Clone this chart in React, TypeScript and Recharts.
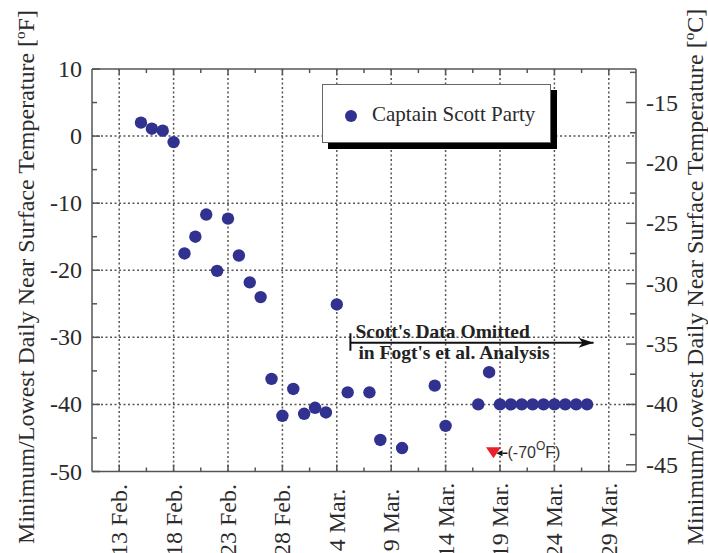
import React from "react";
import { CartesianGrid, Legend, Scatter, ScatterChart, XAxis, YAxis } from "recharts";

// days counted from 13 Feb. 1912 (leap year)
const scottDays = [2, 3, 4, 5, 6, 7, 8, 9, 10, 11, 12, 13, 14, 15, 16, 17, 18, 19, 20, 21, 23, 24, 26, 29, 30, 33, 34, 35, 36, 37, 38, 39, 40, 41, 42, 43];
const scottTempsF = [2, 1.1, 0.8, -0.9, -17.5, -15, -11.7, -20.1, -12.3, -17.8, -21.8, -24, -36.2, -41.7, -37.7, -41.4, -40.5, -41.2, -25.1, -38.2, -38.2, -45.3, -46.5, -37.2, -43.2, -40, -35.2, -40, -40, -40, -40, -40, -40, -40, -40, -40];

// single -70 F reading, drawn near the bottom of the axis
const fogtDay = 34.4;
const fogtMarkF = -47.2;

const omittedFromDay = 21.25;
const omittedToDay = 43.6;
const omittedLevelF = -30.8;

const dateTickDays = [0, 5, 10, 15, 20, 25, 30, 35, 40, 45];
const dateTickLabels = ["13 Feb.", "18 Feb.", "23 Feb.", "28 Feb.", "4 Mar.", "9 Mar.", "14 Mar.", "19 Mar.", "24 Mar.", "29 Mar."];
const dateMinorTicks = [2.5, 7.5, 12.5, 17.5, 22.5, 27.5, 32.5, 37.5, 42.5];
const fTicks = [10, 0, -10, -20, -30, -40, -50];
const fMinorTicks = [5, -5, -15, -25, -35, -45];
const fGrid = [0, -10, -20, -30, -40];
const cTicks = [-15, -20, -25, -30, -35, -40, -45];
const cMinorTicks = [-12.5, -17.5, -22.5, -27.5, -32.5, -37.5, -42.5];

const F_DOMAIN: [number, number] = [-50, 10];
const C_DOMAIN: [number, number] = [(F_DOMAIN[0] - 32) / 1.8, (F_DOMAIN[1] - 32) / 1.8];
const DAY_DOMAIN: [number, number] = [-2.5, 47.5];

const W = 708;
const H = 553;
const PLOT_LEFT = 92;
const PLOT_RIGHT = 636;
const PLOT_TOP = 69;
const PLOT_BOTTOM = 471.5;

const SERIF = '"Liberation Serif", "Times New Roman", serif';
const SANS = '"Liberation Sans", Arial, sans-serif';
const FRAME = "#555";
const INK = "#2b2b2b";
const DOT = "#31318f";
const RED = "#e8202a";
const TICK_FONT = 24;

const scottData = scottDays.map((day, i) => ({ day, temp: scottTempsF[i] }));
const fogtData = [{ day: fogtDay, temp: fogtMarkF }];
const omittedData = [
  { day: omittedFromDay, temp: omittedLevelF, kind: "start" },
  { day: omittedToDay, temp: omittedLevelF, kind: "end" },
];

function BottomTick(props: any) {
  const { x, payload } = props;
  const i = dateTickDays.indexOf(payload.value);
  const major = i >= 0;
  return (
    <g>
      <line x1={x} x2={x} y1={PLOT_BOTTOM} y2={PLOT_BOTTOM - (major ? 7 : 4)} stroke={FRAME} strokeWidth={1.5} />
      {major && (
        <text
          transform={`translate(${x},520) rotate(-90)`}
          textAnchor="middle"
          dominantBaseline="central"
          fontSize={TICK_FONT}
          fontFamily={SERIF}
          fill={INK}
        >
          {dateTickLabels[i]}
        </text>
      )}
    </g>
  );
}

function TopTick(props: any) {
  const { x, payload } = props;
  const major = dateTickDays.includes(payload.value);
  return <line x1={x} x2={x} y1={PLOT_TOP} y2={PLOT_TOP + (major ? 6 : 4)} stroke={FRAME} strokeWidth={1.5} />;
}

function LeftTick(props: any) {
  const { y, payload } = props;
  const major = fTicks.includes(payload.value);
  return (
    <g>
      <line x1={PLOT_LEFT} x2={PLOT_LEFT + (major ? 8 : 5)} y1={y} y2={y} stroke={FRAME} strokeWidth={1.5} />
      {major && (
        <text x={82} y={y} textAnchor="end" dominantBaseline="central" fontSize={TICK_FONT} fontFamily={SERIF} fill={INK}>
          {payload.value}
        </text>
      )}
    </g>
  );
}

function RightTick(props: any) {
  const { y, payload } = props;
  const major = cTicks.includes(payload.value);
  return (
    <g>
      <line x1={PLOT_RIGHT} x2={PLOT_RIGHT - (major ? 10 : 6)} y1={y} y2={y} stroke={FRAME} strokeWidth={1.5} />
      {major && (
        <text x={646} y={y} textAnchor="start" dominantBaseline="central" fontSize={TICK_FONT} fontFamily={SERIF} fill={INK}>
          {payload.value}
        </text>
      )}
    </g>
  );
}

function AxisTitle({ baseX, unit }: { baseX: number; unit: string }) {
  return (
    <text transform={`translate(${baseX},277) rotate(-90)`} textAnchor="middle" fontSize={24} fontFamily={SERIF} fill={INK}>
      Minimum/Lowest Daily Near Surface Temperature [
      <tspan fontSize={15} dy={-9}>o</tspan>
      <tspan dy={9}>{unit}]</tspan>
    </text>
  );
}

function LegendBox({ payload }: any) {
  const items = (payload || []).filter((p: any) => p.type !== "none");
  return (
    <div
      style={{
        boxSizing: "border-box",
        position: "relative",
        width: 229,
        height: 59,
        border: "1.5px solid #666",
        background: "#fff",
        boxShadow: "6px 6px 0 #000",
        fontFamily: SERIF,
      }}
    >
      {items.map((p: any) => (
        <React.Fragment key={p.value}>
          <div
            style={{
              position: "absolute",
              left: 22,
              top: 24.5,
              width: 12,
              height: 12,
              borderRadius: "50%",
              background: p.color,
            }}
          />
          <span
            style={{
              position: "absolute",
              left: 49,
              top: 18.5,
              fontSize: 21,
              lineHeight: "21px",
              color: INK,
              whiteSpace: "nowrap",
            }}
          >
            {p.value}
          </span>
        </React.Fragment>
      ))}
    </div>
  );
}

function FogtMark(props: any) {
  const { cx, cy } = props;
  return (
    <g>
      <polygon points={`${cx - 7.5},${cy - 5.5} ${cx + 7.5},${cy - 5.5} ${cx},${cy + 5.5}`} fill={RED} />
      <polygon points={`${cx + 3},${cy + 0.5} ${cx + 9},${cy - 2.5} ${cx + 9},${cy + 3.5}`} fill="#111" />
      <line x1={cx + 9} x2={cx + 14} y1={cy + 0.5} y2={cy + 0.5} stroke="#111" strokeWidth={1.5} />
      <text x={cx + 14} y={cy + 5.5} fontSize={16} fontFamily={SANS} fill="#333">
        (-70
        <tspan fontSize={12} dy={-8}>O</tspan>
        <tspan dy={8}>F)</tspan>
      </text>
    </g>
  );
}

function OmittedMark(props: any) {
  const { cx, cy, payload } = props;
  if (payload.kind === "end") {
    return <polygon points={`${cx},${cy} ${cx - 15},${cy - 5} ${cx - 11},${cy} ${cx - 15},${cy + 5}`} fill="#111" />;
  }
  return (
    <g>
      <line x1={cx} x2={cx} y1={cy - 9.5} y2={cy + 8} stroke="#111" strokeWidth={2} />
      <text x={cx + 5} y={cy - 4.5} fontSize={19.5} fontWeight="bold" fontFamily={SERIF} fill="#222">
        Scott's Data Omitted
      </text>
      <text x={cx + 8} y={cy + 16} fontSize={19.5} fontWeight="bold" fontFamily={SERIF} fill="#222">
        in Fogt's et al. Analysis
      </text>
    </g>
  );
}

export default function App() {
  const dateTicks = [...dateTickDays, ...dateMinorTicks].sort((a, b) => a - b);
  return (
    <div style={{ position: "absolute", left: 0, top: 0, background: "#fff" }}>
      <ScatterChart width={W} height={H} margin={{ top: 0, right: 0, bottom: 0, left: 0 }}>
        <CartesianGrid
          horizontalValues={fGrid}
          verticalValues={dateTickDays}
          stroke="#555"
          strokeWidth={1.5}
          strokeDasharray="2 2.5"
        />
        <XAxis
          type="number"
          dataKey="day"
          domain={DAY_DOMAIN}
          allowDataOverflow
          ticks={dateTicks}
          interval={0}
          height={H - PLOT_BOTTOM}
          axisLine={{ stroke: FRAME, strokeWidth: 1.5 }}
          tickLine={false}
          tick={BottomTick}
        />
        <XAxis
          xAxisId="top"
          orientation="top"
          type="number"
          dataKey="day"
          domain={DAY_DOMAIN}
          allowDataOverflow
          ticks={dateTicks}
          interval={0}
          height={PLOT_TOP}
          axisLine={{ stroke: FRAME, strokeWidth: 1.5 }}
          tickLine={false}
          tick={TopTick}
        />
        <YAxis
          type="number"
          dataKey="temp"
          domain={F_DOMAIN}
          allowDataOverflow
          ticks={[...fTicks, ...fMinorTicks].sort((a, b) => b - a)}
          interval={0}
          width={PLOT_LEFT}
          axisLine={{ stroke: FRAME, strokeWidth: 1.5 }}
          tickLine={false}
          tick={LeftTick}
          label={<AxisTitle baseX={34} unit="F" />}
        />
        <YAxis
          yAxisId="c"
          orientation="right"
          type="number"
          domain={C_DOMAIN}
          allowDataOverflow
          ticks={[...cTicks, ...cMinorTicks].sort((a, b) => b - a)}
          interval={0}
          width={W - PLOT_RIGHT}
          axisLine={{ stroke: FRAME, strokeWidth: 1.5 }}
          tickLine={false}
          tick={RightTick}
          label={<AxisTitle baseX={703} unit="C" />}
        />
        <Legend
          layout="horizontal"
          verticalAlign="middle"
          align="center"
          wrapperStyle={{ left: 322, top: 84, width: 229, height: 59, margin: 0 }}
          content={LegendBox}
        />
        <Scatter
          name="Captain Scott Party"
          data={scottData}
          fill={DOT}
          isAnimationActive={false}
          shape={(p: any) => <circle cx={p.cx} cy={p.cy} r={6.2} fill={DOT} />}
        />
        <Scatter
          name="omitted"
          data={omittedData}
          legendType="none"
          fill="#111"
          line={{ stroke: "#111", strokeWidth: 2 }}
          isAnimationActive={false}
          shape={OmittedMark}
        />
        <Scatter
          name="-70F"
          data={fogtData}
          legendType="none"
          fill={RED}
          isAnimationActive={false}
          shape={FogtMark}
        />
      </ScatterChart>
    </div>
  );
}
